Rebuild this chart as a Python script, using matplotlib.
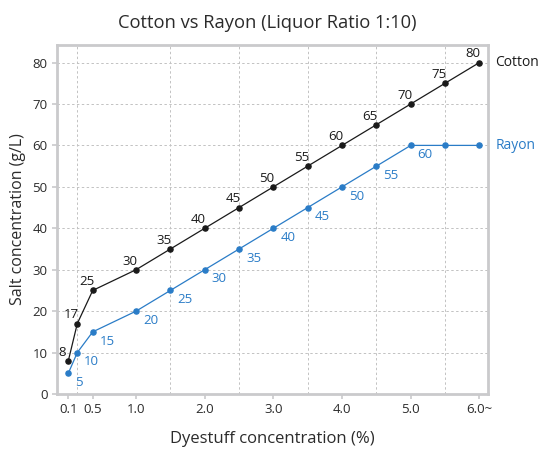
import numpy as np
import matplotlib
matplotlib.use("Agg")
import matplotlib.pyplot as plt
from matplotlib.ticker import FixedLocator, NullFormatter

plt.rcParams['font.family'] = ['Open Sans', 'DejaVu Sans']

# Dyestuff concentration (%)
dye = [0.1, 0.2, 0.5, 1.0, 1.5, 2.0, 2.5, 3.0, 3.5, 4.0, 4.5, 5.0, 5.5, 6.0]
# Salt concentration (g/L)
cotton = [8, 17, 25, 30, 35, 40, 45, 50, 55, 60, 65, 70, 75, 80]
rayon = [5, 10, 15, 20, 25, 30, 35, 40, 45, 50, 55, 60, 60, 60]
rayon_labelled = 12  # the flat tail after 5.0 carries no labels

tick_values = [0.1, 0.5, 1.0, 2.0, 3.0, 4.0, 5.0, 6.0]
tick_labels = ['0.1', '0.5', '1.0', '2.0', '3.0', '4.0', '5.0', '6.0~']

# stretched low end of the concentration axis
scale_vals = np.array([0.0, 0.1, 0.2, 0.5, 1.0, 10.0])
scale_pos = np.array([-0.156, 0.013, 0.144, 0.369, 1.0, 10.0])

def fwd(v):
    return np.interp(v, scale_vals, scale_pos)

def inv(p):
    return np.interp(p, scale_pos, scale_vals)

black = '#1a1a1a'
blue = '#2a7cc7'
spine_gray = '#cacacc'
text_gray = '#2b2b2b'

fig = plt.figure(figsize=(5.4, 4.49), dpi=100)
ax = fig.add_axes([0.105, 0.1225, 0.799, 0.777])
ax.set_xscale('function', functions=(fwd, inv))
ax.set_xlim(0.0, inv(6.127))
ax.set_ylim(0, 84.2)

ax.plot(dye, cotton, color=black, lw=0.9, marker='o', ms=3.7, zorder=3)
ax.plot(dye, rayon, color=blue, lw=0.9, marker='o', ms=3.7, zorder=3)

for x, y in zip(dye, cotton):
    ax.annotate(str(y), (x, y), xytext=(-4.5, 1.5), textcoords='offset points',
                ha='center', va='bottom', fontsize=9.5, color=black)
for x, y in zip(dye[:rayon_labelled], rayon[:rayon_labelled]):
    ax.annotate(str(y), (x, y), xytext=(5, -2), textcoords='offset points',
                ha='left', va='top', fontsize=9.5, color=blue)

ax.annotate('Cotton', (dye[-1], cotton[-1]), xytext=(11.5, 0), textcoords='offset points',
            ha='left', va='center', fontsize=10, color=black, annotation_clip=False)
ax.annotate('Rayon', (dye[-1], rayon[-1]), xytext=(11.5, 0), textcoords='offset points',
            ha='left', va='center', fontsize=10, color=blue, annotation_clip=False)

ax.xaxis.set_major_locator(FixedLocator(tick_values))
ax.set_xticklabels(tick_labels)
ax.xaxis.set_minor_locator(FixedLocator(dye))
ax.xaxis.set_minor_formatter(NullFormatter())
ax.set_yticks(np.arange(0, 81, 10))

ax.grid(False)
ax.grid(True, axis='x', which='minor', color='#c2c2c2', ls=(0, (2.5, 2.5)), lw=0.7)
ax.grid(True, axis='y', which='major', color='#c2c2c2', ls=(0, (2.5, 2.5)), lw=0.7)
ax.set_axisbelow(True)

ax.tick_params(axis='both', which='major', length=3.5, width=1.2, color=spine_gray,
               labelsize=9.5, labelcolor=text_gray, pad=3)
ax.tick_params(axis='x', which='minor', length=0)
ax.tick_params(axis='x', which='major', pad=3)

for s in ax.spines.values():
    s.set_color(spine_gray)
    s.set_linewidth(2)

ax.set_title('Cotton vs Rayon (Liquor Ratio 1:10)', fontsize=13.2, color=text_gray,
             pad=12, x=0.489)
ax.set_xlabel('Dyestuff concentration (%)', fontsize=12, color=text_gray, labelpad=11)
ax.set_ylabel('Salt concentration (g/L)', fontsize=11.5, color=text_gray, labelpad=5)

fig.savefig('out.png', dpi=100)
